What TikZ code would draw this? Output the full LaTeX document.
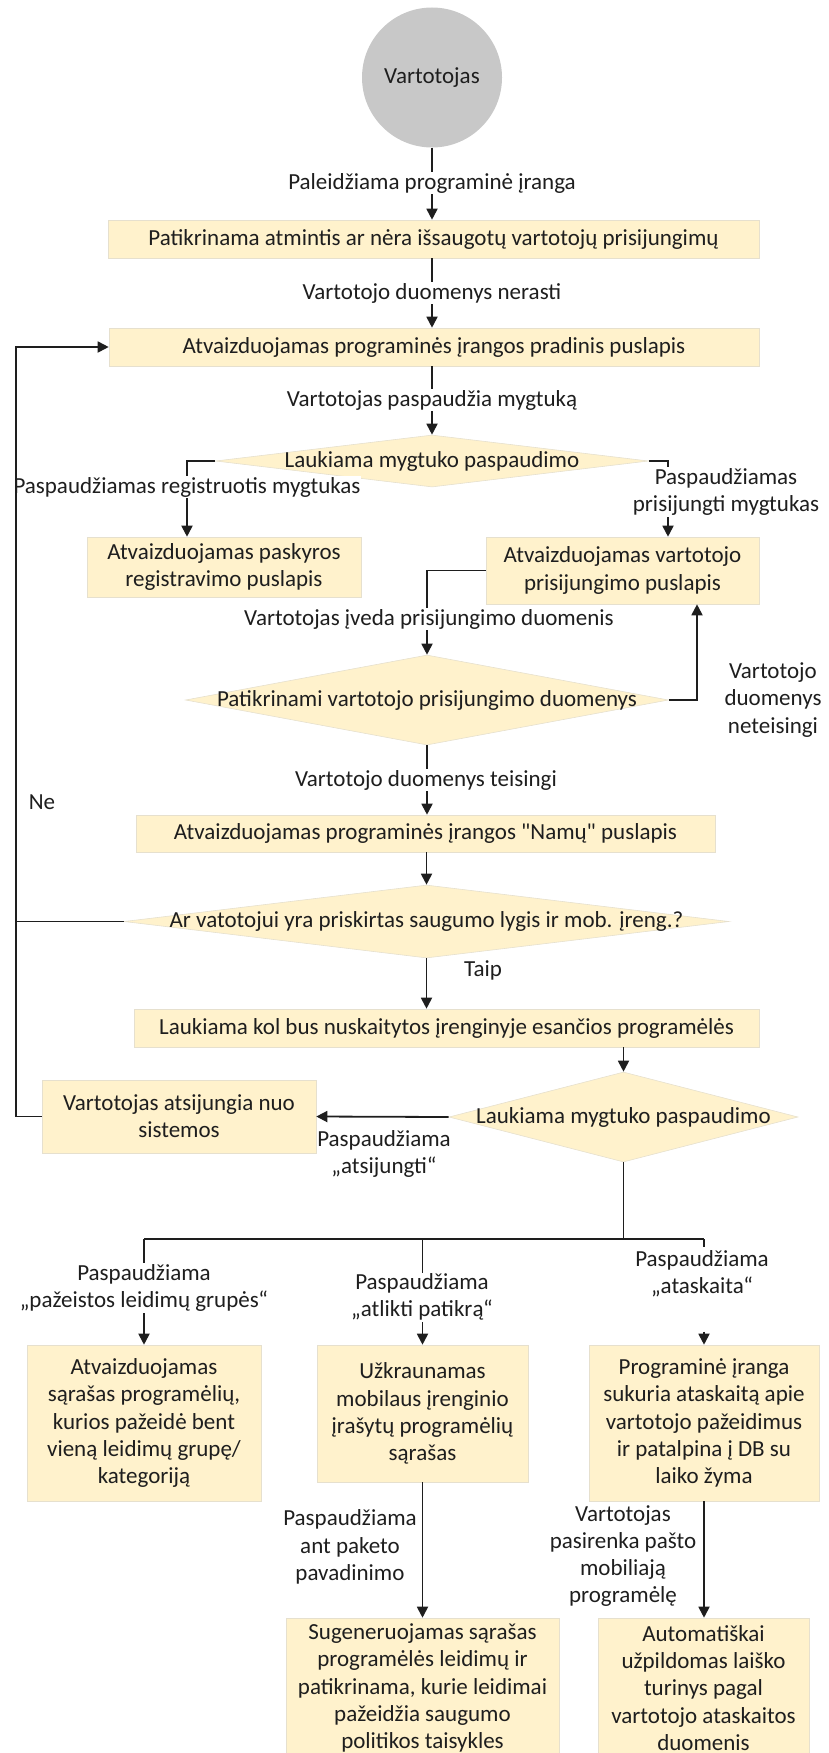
\documentclass[tikz,border=0pt]{standalone}
\usepackage{fontspec}
\setmainfont{Carlito}[Ligatures=TeXOff]
\usetikzlibrary{shapes.geometric,arrows.meta,calc}
\definecolor{boxfill}{HTML}{FFF2CC}
\definecolor{boxedge}{HTML}{E6E0CE}
\definecolor{ink}{HTML}{1E1E1E}
\definecolor{startgrey}{HTML}{C8C8C8}
\begin{document}
\begin{tikzpicture}[x=1pt,y=-1pt,
  font=\fontsize{23}{27.3}\selectfont, text=ink,
  proc/.style={rectangle, draw=boxedge, line width=0.6pt, fill=boxfill, inner sep=0pt, align=center},
  dec/.style={diamond, draw=boxedge, line width=0.6pt, fill=boxfill, inner sep=0pt},
  conn/.style={draw=ink, line width=1.8pt},
  arr/.style={conn, -{Triangle[length=11pt,width=11pt]}},
  lab/.style={fill=white, inner sep=1pt, align=center},
  plain/.style={inner sep=1pt, align=center}]
\useasboundingbox (0,0) rectangle (828,1753);

% start node
\node[circle, fill=startgrey, minimum size=140pt, inner sep=0pt] (c) at (432,77.5) {Vartotojas};

% process boxes
\node[proc, minimum width=651pt, minimum height=38pt] (b1) at (433.5,239) {Patikrinama atmintis ar nėra išsaugotų vartotojų prisijungimų};
\node[proc, minimum width=650pt, minimum height=38pt] (b2) at (434,347) {Atvaizduojamas programinės įrangos pradinis puslapis};
\node[proc, minimum width=274pt, minimum height=60pt] (b3) at (224,567) {Atvaizduojamas paskyros\\registravimo puslapis};
\node[proc, minimum width=273pt, minimum height=67pt] (b4) at (622.5,570.5) {Atvaizduojamas vartotojo\\prisijungimo puslapis};
\node[proc, minimum width=579pt, minimum height=37pt] (b5) at (425.5,833.5) {Atvaizduojamas programinės įrangos "Namų" puslapis};
\node[proc, minimum width=625pt, minimum height=38pt] (b7) at (446.5,1028) {Laukiama kol bus nuskaitytos įrenginyje esančios programėlės};
\node[proc, minimum width=274pt, minimum height=73pt] (b6) at (179,1116.5) {Vartotojas atsijungia nuo\\sistemos};
\node[proc, minimum width=234pt, minimum height=156pt] (b8) at (144,1423) {Atvaizduojamas\\sąrašas programėlių,\\kurios pažeidė bent\\vieną leidimų grupę/\\kategoriją};
\node[proc, minimum width=211pt, minimum height=137pt] (b9) at (422.5,1413.5) {Užkraunamas\\mobilaus įrenginio\\įrašytų programėlių\\sąrašas};
\node[proc, minimum width=273pt, minimum height=140pt] (b10) at (422.5,1688) {Sugeneruojamas sąrašas\\programėlės leidimų ir\\patikrinama, kurie leidimai\\pažeidžia saugumo\\politikos taisykles};
\node[proc, minimum width=230pt, minimum height=156pt] (b11) at (704,1423) {Programinė įranga\\sukuria ataskaitą apie\\vartotojo pažeidimus\\ir patalpina į DB su\\laiko žyma};
\node[proc, minimum width=211pt, minimum height=140pt] (b12) at (703.5,1688) {Automatiškai\\užpildomas laiško\\turinys pagal\\vartotojo ataskaitos\\duomenis};

% decisions
\node[dec, minimum width=433pt, minimum height=52pt] (d1) at (432,461) {};
\node[plain] (d1t) at (d1.center) {Laukiama mygtuko paspaudimo};
\node[dec, minimum width=483pt, minimum height=90pt] (d2) at (427,700) {};
\node[plain] (d2t) at (d2.center) {Patikrinami vartotojo prisijungimo duomenys};
\node[dec, minimum width=605pt, minimum height=73pt] (d3) at (426.5,921.5) {};
\node[plain] (d3t) at (d3.center) {Ar vatotojui yra priskirtas saugumo lygis ir mob. įreng.?};
\node[dec, minimum width=349pt, minimum height=90pt] (d4) at (623.5,1117) {};
\node[plain] (d4t) at (d4.center) {Laukiama mygtuko paspaudimo};

% helper coordinates for bends
\coordinate (regx) at (187,0);
\coordinate (logx) at (668,0);
\coordinate (retx) at (697,0);
\coordinate (split) at (623.5,1239);
\coordinate (lb) at (16,1116.5);
\coordinate (lt) at (16,347);

% main flow
\draw[arr] (c.south) -- (c.south |- b1.north);
\draw[arr] (c.south |- b1.south) -- (c.south |- b2.north);
\draw[arr] (d1.north |- b2.south) -- (d1.north);
\draw[arr] (d1.west) -| (regx |- b3.north);
\draw[arr] (d1.east) -| (logx |- b4.north);
\draw[arr] (b4.west) -| (d2.north);
\draw[arr] (d2.east) -| (retx |- b4.south);
\draw[arr] (d2.south) -- (d2.south |- b5.north);
\draw[arr] (d3.north |- b5.south) -- (d3.north);
\draw[arr] (d3.south) -- (d3.south |- b7.north);
\draw[arr] (d4.north |- b7.south) -- (d4.north);
\draw[arr] (d4.west) -- (b6.east);
\draw[conn] (d4.south) -- (split);
\draw[conn] (b8.north |- split) -- (b11.north |- split);
\draw[arr] (b8.north |- split) -- (b8.north);
\draw[arr] (b9.north |- split) -- (b9.north);
\draw[conn] (b11.north |- split) -- ++(0,8);
\draw[arr] ($(b11.north)+(0,-13)$) -- (b11.north);
\draw[arr] (b9.south) -- (b9.south |- b10.north);
\draw[arr] (b11.south) -- (b11.south |- b12.north);

% connector labels
\node[lab] (l1) at (432,183) {Paleidžiama programinė įranga};
\node[lab] (l2) at (432,293) {Vartotojo duomenys nerasti};
\node[lab] (l3) at (432,400) {Vartotojas paspaudžia mygtuką};
\node[lab] (l4) at (187,487) {Paspaudžiamas registruotis mygtukas};
\node[lab] (l5) at (726,492) {Paspaudžiamas\\prisijungti mygtukas};
\node[lab] (l6) at (429,619) {Vartotojas įveda prisijungimo duomenis};
\node[plain] (l7) at (773,700) {Vartotojo\\duomenys\\neteisingi};
\node[lab] (l8) at (426,780) {Vartotojo duomenys teisingi};
\node[plain] (l9) at (42,802) {Ne};
\node[plain] (l10) at (483,970) {Taip};
\node[plain] (l11) at (384,1154) {Paspaudžiama\\„atsijungti“};
\node[lab] (l12) at (144,1288) {Paspaudžiama\\„pažeistos leidimų grupės“};
\node[lab] (l13) at (422,1297) {Paspaudžiama\\„atlikti patikrą“};
\node[lab] (l14) at (702,1274) {Paspaudžiama\\„ataskaita“};
\node[plain] (l15) at (350,1547) {Paspaudžiama\\ant paketo\\pavadinimo};
\node[plain] (l16) at (623,1556) {Vartotojas\\pasirenka pašto\\mobiliają\\programėlę};

% return loop on the left
\draw[conn] (d3.west) -- (d3.west -| lb);
\draw[arr] (b6.west) -- (lb) -- (lt) -- (b2.west);
\end{tikzpicture}
\end{document}
